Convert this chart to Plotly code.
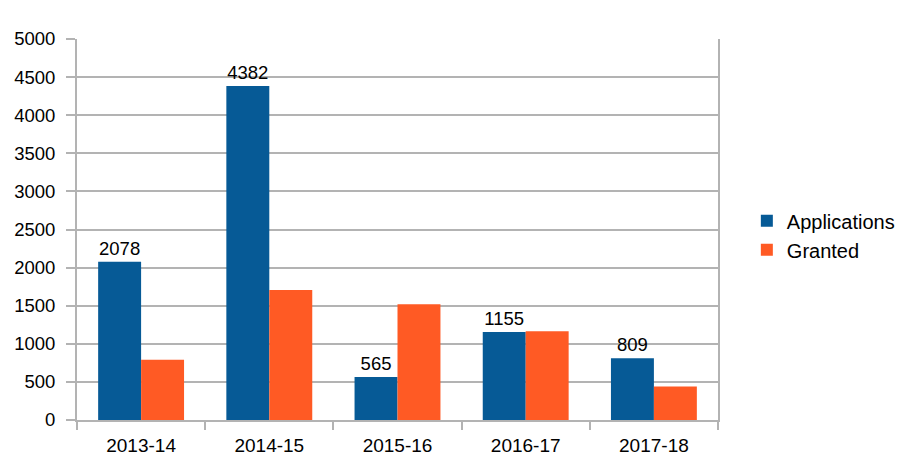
import plotly.graph_objects as go

categories = ["2013-14", "2014-15", "2015-16", "2016-17", "2017-18"]
applications = [2078, 4382, 565, 1155, 809]
granted = [790, 1707, 1520, 1165, 438]
y_ticks = [0, 500, 1000, 1500, 2000, 2500, 3000, 3500, 4000, 4500, 5000]

fig = go.Figure()
fig.add_trace(go.Bar(
    x=categories, y=applications, name="Applications",
    marker=dict(color="#065a96", line=dict(width=0)),
    text=[str(v) for v in applications], textposition="outside",
    textfont=dict(size=18.5, color="#000000"), cliponaxis=False,
))
fig.add_trace(go.Bar(
    x=categories, y=granted, name="Granted",
    marker=dict(color="#ff5a24", line=dict(width=0)),
))

fig.update_layout(
    width=912, height=474,
    margin=dict(l=69, r=202, t=31, b=62, autoexpand=False),
    paper_bgcolor="white", plot_bgcolor="white",
    font=dict(family="Liberation Sans, Arial, sans-serif", size=18.5, color="#000000"),
    barmode="group", bargap=0.33, bargroupgap=0,
    showlegend=True,
    legend=dict(x=1.045, xanchor="left", xref="paper", y=0.485, yanchor="middle",
                font=dict(size=20), itemwidth=30, tracegroupgap=0,
                bgcolor="rgba(0,0,0,0)"),
)
fig.update_xaxes(
    type="category", showgrid=False, showline=True, linecolor="#b3b3b3", linewidth=2,
    ticks="outside", tickson="boundaries", ticklen=8, tickcolor="#b3b3b3", tickwidth=2,
    ticklabelstandoff=7, automargin=False, tickfont=dict(size=19),
)
fig.update_yaxes(
    range=[0, 5000], tickvals=y_ticks, showgrid=True, gridcolor="#b3b3b3", gridwidth=1.5,
    showline=True, linecolor="#b3b3b3", linewidth=2, mirror=True,
    ticks="outside", ticklen=9, tickcolor="#b3b3b3", tickwidth=2, zeroline=False,
    ticklabelstandoff=7, automargin=False,
)

fig.write_html("out.html")
